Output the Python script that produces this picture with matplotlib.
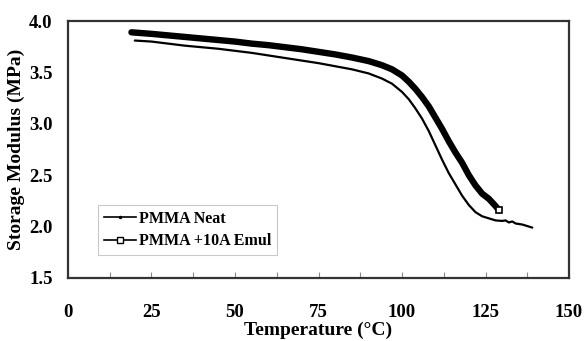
import matplotlib.pyplot as plt
from matplotlib.lines import Line2D

plt.rcParams['font.family'] = ['Liberation Serif', 'DejaVu Serif']

# PMMA Neat
t_neat = [20, 25, 30, 35, 40, 45, 50, 55, 60, 65, 70, 75, 80, 85, 90, 94, 97, 100,
          102, 104, 106, 108, 110, 112, 114, 116, 118, 120, 122, 124, 126, 128,
          130, 131, 132, 133, 134, 136, 139]
e_neat = [3.81, 3.80, 3.78, 3.76, 3.745, 3.73, 3.71, 3.69, 3.665, 3.64, 3.615,
          3.59, 3.56, 3.53, 3.49, 3.44, 3.39, 3.31, 3.24, 3.15, 3.05, 2.93, 2.79,
          2.65, 2.52, 2.41, 2.30, 2.21, 2.14, 2.10, 2.08, 2.06, 2.055, 2.06, 2.04,
          2.05, 2.03, 2.02, 1.99]

# PMMA +10A Emul
t_emul = [19, 25, 30, 35, 40, 45, 50, 55, 60, 65, 70, 75, 80, 85, 90, 94, 97, 100,
          102, 104, 106, 108, 110, 112, 114, 116, 118, 120, 122, 124, 126, 128, 129]
e_emul = [3.89, 3.875, 3.86, 3.845, 3.83, 3.815, 3.80, 3.78, 3.765, 3.745, 3.725,
          3.70, 3.675, 3.645, 3.61, 3.57, 3.53, 3.47, 3.41, 3.34, 3.26, 3.17, 3.06,
          2.95, 2.83, 2.72, 2.62, 2.50, 2.40, 2.32, 2.27, 2.20, 2.16]

xticks = [0, 25, 50, 75, 100, 125, 150]
yticks = [1.5, 2.0, 2.5, 3.0, 3.5, 4.0]

fig = plt.figure(figsize=(5.84, 3.41), dpi=100)
ax = fig.add_axes([0.1164, 0.1848, 0.858, 0.7536])

ax.plot(t_neat, e_neat, color='black', lw=1.6, solid_capstyle='round')
ax.plot(t_emul, e_emul, color='black', lw=4.6, solid_capstyle='round')
ax.plot(t_emul[-1:], e_emul[-1:], 's', ms=4, mfc='white', mec='black', mew=1.2)

ax.set_xlim(0, 150)
ax.set_ylim(1.5, 4.0)
ax.set_xticks(xticks)
ax.set_yticks(yticks)
ax.set_xticks([12.5, 37.5, 62.5, 87.5, 112.5, 137.5], minor=True)
ax.tick_params(axis='x', which='both', direction='in', length=4, width=0.8,
               color='#888888', pad=19, labelsize=13.5)
ax.tick_params(axis='y', length=0, pad=11, labelsize=13.5)
for lab in ax.get_xticklabels() + ax.get_yticklabels():
    lab.set_fontweight('bold')
for s in ax.spines.values():
    s.set_linewidth(1.6)
    s.set_color('#333333')

ax.set_xlabel('Temperature (°C)', fontsize=14, fontweight='bold', labelpad=0)
ax.set_ylabel('Storage Modulus (MPa)', fontsize=14, fontweight='bold', labelpad=3)

handles = [
    Line2D([], [], color='black', lw=1.2, marker='.', ms=3),
    Line2D([], [], color='black', lw=1.2, marker='s', ms=4, mfc='white'),
]
leg = ax.legend(handles, ['PMMA Neat', 'PMMA +10A Emul'], loc='lower left',
                bbox_to_anchor=(0.06, 0.09), frameon=True, fancybox=False,
                prop={'weight': 'bold', 'size': 11.5}, handlelength=2.0,
                handletextpad=0.2, borderpad=0.35, labelspacing=0.4,
                borderaxespad=0)
leg.get_frame().set_edgecolor('#bbbbbb')
leg.get_frame().set_linewidth(0.8)

fig.savefig('out.png', dpi=100)
